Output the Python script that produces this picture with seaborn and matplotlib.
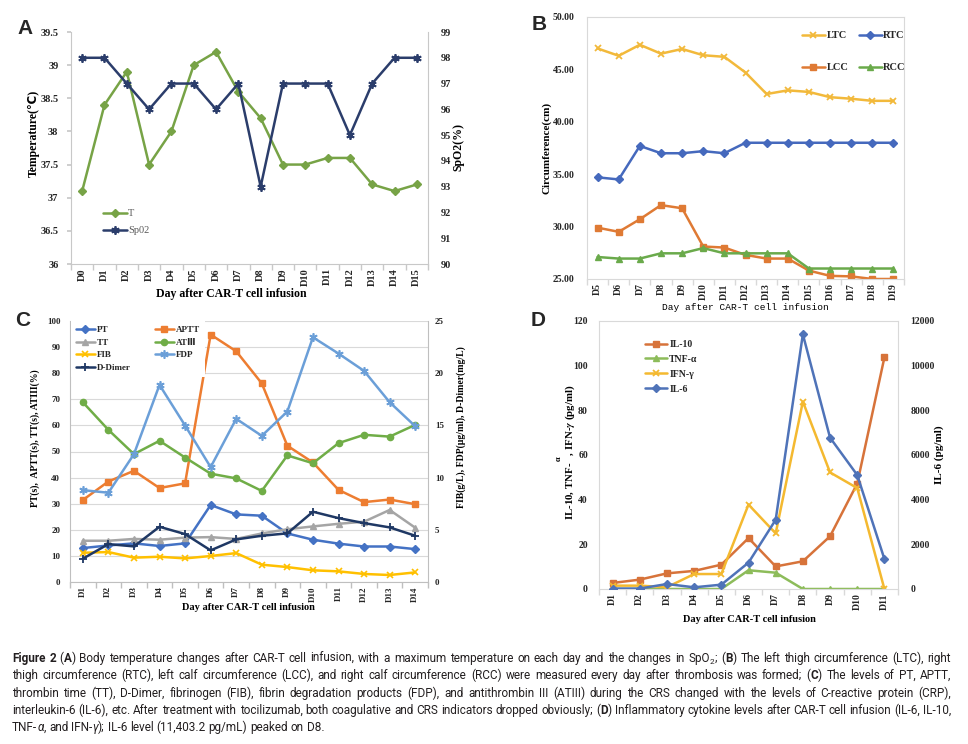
import numpy as np
import pandas as pd
import seaborn as sns
import matplotlib.pyplot as plt
from matplotlib import font_manager

sns.set_theme(style='white')
plt.rcParams['font.family'] = ['Liberation Serif', 'DejaVu Sans']
plt.rcParams['font.weight'] = 'bold'
plt.rcParams['mathtext.fontset'] = 'stix'

W, H = 968, 744

# ---- panel A: temperature / SpO2 ----
days_a = ['D%d' % i for i in range(0, 16)]
temp = [37.1, 38.4, 38.9, 37.5, 38.0, 39.0, 39.2, 38.6, 38.2, 37.5, 37.5, 37.6, 37.6, 37.2, 37.1, 37.2]
spo2 = [98, 98, 97, 96, 97, 97, 96, 97, 93, 97, 97, 97, 95, 97, 98, 98]

# ---- panel B: limb circumference ----
days_b = ['D%d' % i for i in range(5, 20)]
ltc = [47.0, 46.3, 47.35, 46.5, 46.95, 46.35, 46.2, 44.7, 42.65, 43.0, 42.85, 42.35, 42.2, 42.0, 42.0]
rtc = [34.7, 34.5, 37.7, 37.0, 37.0, 37.2, 37.0, 38.0, 38.0, 38.0, 38.0, 38.0, 38.0, 38.0, 38.0]
lcc = [29.9, 29.5, 30.7, 32.05, 31.75, 28.1, 28.0, 27.3, 26.95, 26.95, 25.8, 25.3, 25.25, 25.0, 25.0]
rcc = [27.1, 26.95, 26.95, 27.45, 27.45, 27.95, 27.45, 27.45, 27.45, 27.45, 26.0, 26.0, 26.0, 26.0, 26.0]

# ---- panel C: coagulation ----
days_c = ['D%d' % i for i in range(1, 15)]
pt = [13.0, 14.0, 14.8, 13.8, 14.8, 29.5, 25.9, 25.4, 18.6, 16.2, 14.7, 13.6, 13.6, 12.6]
aptt = [31.4, 38.5, 42.6, 36.0, 37.8, 94.8, 88.4, 76.1, 52.2, 45.8, 35.3, 30.6, 31.6, 29.8]
tt = [15.8, 15.8, 16.5, 16.2, 17.0, 17.2, 16.5, 18.6, 20.2, 21.3, 22.3, 23.1, 27.6, 20.8]
at3 = [68.9, 58.3, 49.0, 54.1, 47.7, 41.5, 39.7, 34.9, 48.5, 45.5, 53.2, 56.4, 55.7, 60.2]
fib = [2.80, 2.87, 2.33, 2.42, 2.26, 2.49, 2.77, 1.66, 1.43, 1.12, 1.02, 0.77, 0.67, 0.92]
fdp = [8.80, 8.55, 12.24, 18.88, 14.99, 11.00, 15.63, 14.00, 16.33, 23.44, 21.88, 20.22, 17.22, 14.92]
ddimer = [2.23, 3.63, 3.41, 5.29, 4.59, 3.03, 4.08, 4.43, 4.66, 6.73, 6.12, 5.64, 5.23, 4.43]

# ---- panel D: cytokines ----
days_d = ['D%d' % i for i in range(1, 12)]
il10 = [2.7, 4.2, 7.0, 8.1, 10.9, 22.8, 10.1, 12.4, 23.6, 47.2, 103.7]
tnf = [0, 0, 0, 0, 0, 8.4, 7.3, 0, 0, 0, 0]
ifn = [1.5, 1.5, 0.8, 6.7, 6.7, 37.8, 24.9, 83.9, 52.2, 45.2, 0]
il6 = [20, 20, 224, 75, 194, 1180, 3100, 11403.2, 6776, 5104, 1343]


def fx(x):
    return x / W


def fy(y):
    return 1 - y / H


def rect(l, t, r, b):
    return [l / W, 1 - b / H, (r - l) / W, (b - t) / H]


def series(ax, days, vals, color, marker, label, ms=4.5, mew=1.0):
    df = pd.DataFrame({'x': np.arange(len(days)), 'y': vals})
    sns.lineplot(data=df, x='x', y='y', ax=ax, color=color, marker=marker,
                 markersize=ms, markeredgecolor=color, markeredgewidth=mew,
                 linewidth=1.8, legend=False)
    line = ax.lines[-1]
    line.set_label(label)
    return line


def style_axes(ax, days, fs, frame_color='#c8c8c8', box=False):
    n = len(days)
    ax.set_xlim(-0.5, n - 0.5)
    ax.set_xticks(np.arange(n))
    ax.set_xticklabels(days, rotation=90, fontsize=fs, fontweight='bold')
    ax.set_xticks(np.arange(-0.5, n), minor=True)
    ax.tick_params(axis='x', which='major', length=0, pad=3)
    ax.tick_params(axis='x', which='minor', length=4, color=frame_color, bottom=True)
    ax.set_xlabel('')
    ax.set_ylabel('')
    for s in ax.spines.values():
        s.set_color(frame_color)
        s.set_linewidth(0.8)
    ax.spines['top'].set_visible(box)


def twin_clean(ax2):
    for s in ax2.spines.values():
        s.set_visible(False)
    ax2.set_ylabel('')
    ax2.set_xlabel('')


fig = plt.figure(figsize=(W / 100, H / 100), dpi=100)
fig.patch.set_facecolor('white')
lab_kw = dict(fontweight='bold', color='black')

# ================= A =================
axA = fig.add_axes(rect(71, 32, 428, 264))
axA2 = axA.twinx()
lT = series(axA, days_a, temp, '#77a346', 'D', 'T', ms=4.2)
lS = series(axA2, days_a, spo2, '#2b3d6b', (6, 2, 0), 'Sp02', ms=6, mew=1.3)
axA.set_ylim(36, 39.5)
axA.set_yticks(np.arange(36, 39.51, 0.5))
axA.set_yticklabels(['%g' % v for v in np.arange(36, 39.51, 0.5)], fontsize=7.5, fontweight='bold')
axA2.set_ylim(90, 99)
axA2.set_yticks(np.arange(90, 100))
axA2.set_yticklabels([str(v) for v in range(90, 100)], fontsize=7.5, fontweight='bold')
style_axes(axA, days_a, 7.5)
twin_clean(axA2)
axA.tick_params(axis='y', length=3, color='#c8c8c8', left=True, pad=6)
axA2.tick_params(axis='y', length=0, pad=9)
legA = axA2.legend(handles=[lT, lS], loc='upper left', bbox_to_anchor=(fx(103), fy(209)),
                   bbox_transform=fig.transFigure, frameon=False, handlelength=2.3,
                   handletextpad=0.1, labelspacing=0.75, borderpad=0, borderaxespad=0,
                   prop={'size': 7.5, 'weight': 'normal'})
for t in legA.get_texts():
    t.set_color('#595959')
fig.text(fx(34), fy(133), 'Temperature(℃)', rotation=90, ha='center', va='center', fontsize=8.5, **lab_kw)
fig.text(fx(458), fy(147), 'SpO2(%)', rotation=90, ha='center', va='center', fontsize=8.5, **lab_kw)
fig.text(fx(231), fy(294), 'Day after CAR-T cell infusion', ha='center', va='center', fontsize=8.5, **lab_kw)
fig.text(fx(25), fy(29), 'A', ha='center', va='center', fontsize=15, fontweight='bold', family='Liberation Sans')

# ================= B =================
axB = fig.add_axes(rect(587, 17, 904, 279))
l_ltc = series(axB, days_b, ltc, '#f2b93b', 'x', 'LTC', ms=5, mew=1.3)
l_rtc = series(axB, days_b, rtc, '#4569bd', 'D', 'RTC', ms=4)
l_lcc = series(axB, days_b, lcc, '#df7a34', 's', 'LCC', ms=4.5)
l_rcc = series(axB, days_b, rcc, '#6aaa4b', '^', 'RCC', ms=4.5)
axB.set_ylim(25, 50)
axB.set_yticks(np.arange(25, 51, 5))
axB.set_yticklabels(['%.2f' % v for v in np.arange(25, 51, 5)], fontsize=7, fontweight='bold')
style_axes(axB, days_b, 7, frame_color='#d9d9d9', box=True)
axB.tick_params(axis='y', length=0, pad=9)
axB.legend(handles=[l_ltc, l_lcc, l_rtc, l_rcc], ncol=2, loc='upper left',
           bbox_to_anchor=(fx(802), fy(31)), bbox_transform=fig.transFigure, frameon=False,
           handlelength=2.2, handletextpad=0.15, labelspacing=2.2, columnspacing=1.0,
           borderpad=0, borderaxespad=0, prop={'size': 7.5, 'weight': 'bold'})
fig.text(fx(547), fy(148), 'Circumference(cm)', rotation=90, ha='center', va='center', fontsize=8, **lab_kw)
fig.text(fx(745), fy(307), 'Day after CAR-T cell infusion', ha='center', va='center', fontsize=6.8,
         family='Liberation Mono', fontweight='normal', color='black')
fig.text(fx(539), fy(25), 'B', ha='center', va='center', fontsize=15, fontweight='bold', family='Liberation Sans')

# ================= C =================
axC = fig.add_axes(rect(70, 321, 428, 582))
axC2 = axC.twinx()
axC.set_ylim(0, 100)
axC.set_yticks(np.arange(0, 101, 10))
axC.yaxis.grid(True, color='#d9d9d9', linewidth=0.8)
axC.set_axisbelow(True)
l_pt = series(axC, days_c, pt, '#4472c4', 'D', 'PT', ms=4)
l_aptt = series(axC, days_c, aptt, '#ed7d31', 's', 'APTT', ms=4.5)
l_tt = series(axC, days_c, tt, '#a5a5a5', '^', 'TT', ms=4.5)
l_at = series(axC, days_c, at3, '#70ad47', 'o', 'ATⅢ', ms=4.5)
l_fib = series(axC2, days_c, fib, '#ffc000', 'x', 'FIB', ms=5, mew=1.2)
l_fdp = series(axC2, days_c, fdp, '#6b9fd8', (6, 2, 0), 'FDP', ms=6, mew=1.2)
l_dd = series(axC2, days_c, ddimer, '#1f3864', '+', 'D-Dimer', ms=6, mew=1.3)
axC.set_yticklabels([str(v) for v in range(0, 101, 10)], fontsize=6.5, fontweight='bold')
axC2.set_ylim(0, 25)
axC2.set_yticks(np.arange(0, 26, 5))
axC2.set_yticklabels([str(v) for v in range(0, 26, 5)], fontsize=6.5, fontweight='bold')
style_axes(axC, days_c, 6.5, frame_color='#bfbfbf')
axC.spines['top'].set_visible(False)
twin_clean(axC2)
axC.tick_params(axis='y', length=0, pad=7)
axC2.tick_params(axis='y', length=0, pad=5)
legC = axC2.legend(handles=[l_pt, l_tt, l_fib, l_dd, l_aptt, l_at, l_fdp], ncol=2, loc='upper left',
                   bbox_to_anchor=(fx(71), fy(321)), bbox_transform=fig.transFigure,
                   frameon=True, facecolor='white', edgecolor='none', framealpha=1, fancybox=False,
                   handlelength=2.2, handletextpad=0.2, labelspacing=0.5, columnspacing=2.6,
                   borderpad=0.5, borderaxespad=0, prop={'size': 6.5, 'weight': 'bold'})
fig.text(fx(35), fy(438), 'PT(s),  APTT(s), TT(s), ATIII(%)', rotation=90, ha='center', va='center', fontsize=7, **lab_kw)
fig.text(fx(461), fy(427), 'FIB(g/L), FDP(μg/ml), D-Dimer(mg/L)', rotation=90, ha='center', va='center', fontsize=7, **lab_kw)
fig.text(fx(248), fy(607), 'Day after CAR-T cell infusion', ha='center', va='center', fontsize=7.5, **lab_kw)
fig.text(fx(23), fy(320), 'C', ha='center', va='center', fontsize=15, fontweight='bold', family='Liberation Sans')

# ================= D =================
axD = fig.add_axes(rect(599, 321, 898, 589))
axD2 = axD.twinx()
l_il10 = series(axD, days_d, il10, '#d7733a', 's', 'IL-10', ms=4.5)
l_tnf = series(axD, days_d, tnf, '#8dbc5a', '^', 'TNF-α', ms=4.5)
l_ifn = series(axD, days_d, ifn, '#f4b930', 'x', 'IFN-γ', ms=5, mew=1.3)
l_il6 = series(axD2, days_d, il6, '#4f73b8', 'D', 'IL-6', ms=4)
axD.set_ylim(0, 120)
axD.set_yticks(np.arange(0, 121, 20))
axD.set_yticklabels([str(v) for v in range(0, 121, 20)], fontsize=7, fontweight='bold')
axD2.set_ylim(0, 12000)
axD2.set_yticks(np.arange(0, 12001, 2000))
axD2.set_yticklabels([str(v) for v in range(0, 12001, 2000)], fontsize=7, fontweight='bold')
style_axes(axD, days_d, 7, frame_color='#d9d9d9', box=True)
twin_clean(axD2)
axD.tick_params(axis='y', length=0, pad=8)
axD2.tick_params(axis='y', length=0, pad=9)
axD2.legend(handles=[l_il10, l_tnf, l_ifn, l_il6], loc='upper left',
            bbox_to_anchor=(fx(645), fy(340)), bbox_transform=fig.transFigure, frameon=False,
            handlelength=2.3, handletextpad=0.2, labelspacing=0.6,
            borderpad=0, borderaxespad=0, prop={'size': 7, 'weight': 'bold'})
fig.text(fx(570), fy(452), 'IL-10, TNF-   , IFN-$\\gamma$ (pg/ml)', rotation=90, ha='center', va='center', fontsize=7.8, **lab_kw)
fig.text(fx(559), fy(459), 'α', rotation=90, ha='center', va='center', fontsize=6, **lab_kw)
fig.text(fx(939), fy(455), 'IL-6 (pg/ml)', rotation=90, ha='center', va='center', fontsize=8, **lab_kw)
fig.text(fx(749), fy(619), 'Day after CAR-T cell infusion', ha='center', va='center', fontsize=7.5, **lab_kw)
fig.text(fx(538), fy(321), 'D', ha='center', va='center', fontsize=15, fontweight='bold', family='Liberation Sans')

# ================= caption =================
installed = {f.name for f in font_manager.fontManager.ttflist}
cap_choice = [f for f in ['Liberation Sans Narrow', 'Roboto', 'Lato'] if f in installed]
cap_font = [cap_choice[0] if cap_choice else 'DejaVu Sans', 'DejaVu Sans']
cap_lines = [
    [('Figure 2', 'b'), (' (', 'n'), ('A', 'b'), (') Body temperature changes after CAR-T cell infusion, with a maximum temperature on each day and the changes in SpO', 'n'),
     ('2', 's'), ('; (', 'n'), ('B', 'b'), (') The left thigh circumference (LTC), right', 'n')],
    [('thigh circumference (RTC), left calf circumference (LCC), and right calf circumference (RCC) were measured every day after thrombosis was formed; (', 'n'),
     ('C', 'b'), (') The levels of PT, APTT,', 'n')],
    [('thrombin time (TT), D-Dimer, fibrinogen (FIB), fibrin degradation products (FDP), and antithrombin III (ATIII) during the CRS changed with the levels of C-reactive protein (CRP),', 'n')],
    [('interleukin-6 (IL-6), etc. After treatment with tocilizumab, both coagulative and CRS indicators dropped obviously; (', 'n'), ('D', 'b'),
     (') Inflammatory cytokine levels after CAR-T cell infusion (IL-6, IL-10,', 'n')],
    [('TNF-', 'n'), ('α', 'i'), (', and IFN-', 'n'), ('γ', 'i'), ('); IL-6 level (11,403.2 pg/mL) peaked on D8.', 'n')],
]
cap_base = [662, 679, 697, 714, 731]
cap_x0, cap_x1 = 12, 951

renderer = fig.canvas.get_renderer()


def cap_text(t, st, size):
    kw = dict(fontsize=size, family=cap_font, fontweight='normal', va='baseline', ha='left', color='#231f20')
    if st == 'b':
        kw['fontweight'] = 'bold'
    if st == 'i':
        kw['style'] = 'italic'
    if st == 's':
        kw['fontsize'] = size * 0.7
    return fig.text(0, 0, t, **kw)


def layout_line(segs, size, base=None, justify=False):
    pieces = []
    for text, st in segs:
        for i, p in enumerate(text.split(' ')):
            if i:
                pieces.append(None)
            if p:
                pieces.append((p, st))
    arts = [cap_text(p[0], p[1], size) if p else None for p in pieces]
    widths = [a.get_window_extent(renderer).width if a else 0 for a in arts]
    a1 = cap_text('a a', 'n', size)
    a2 = cap_text('aa', 'n', size)
    sp = a1.get_window_extent(renderer).width - a2.get_window_extent(renderer).width
    a1.remove()
    a2.remove()
    nsp = pieces.count(None)
    nat = sum(widths) + sp * nsp
    if base is None:
        for a in arts:
            if a:
                a.remove()
        return nat
    gap = sp
    if justify and nsp:
        gap = sp + (cap_x1 - cap_x0 - nat) / nsp
    x = cap_x0
    for p, a, w in zip(pieces, arts, widths):
        if a is None:
            x += gap
            continue
        dy = 2.5 if p[1] == 's' else 0
        a.set_position((fx(x), fy(base + dy)))
        x += w
    return nat


size0 = 8.6
widest = max(layout_line(s, size0) for s in cap_lines[:4])
cap_size = min(size0, size0 * (cap_x1 - cap_x0) / widest)
for i, segs in enumerate(cap_lines):
    layout_line(segs, cap_size, base=cap_base[i], justify=(i < 4))

fig.savefig('out.png', dpi=100, facecolor='white')
